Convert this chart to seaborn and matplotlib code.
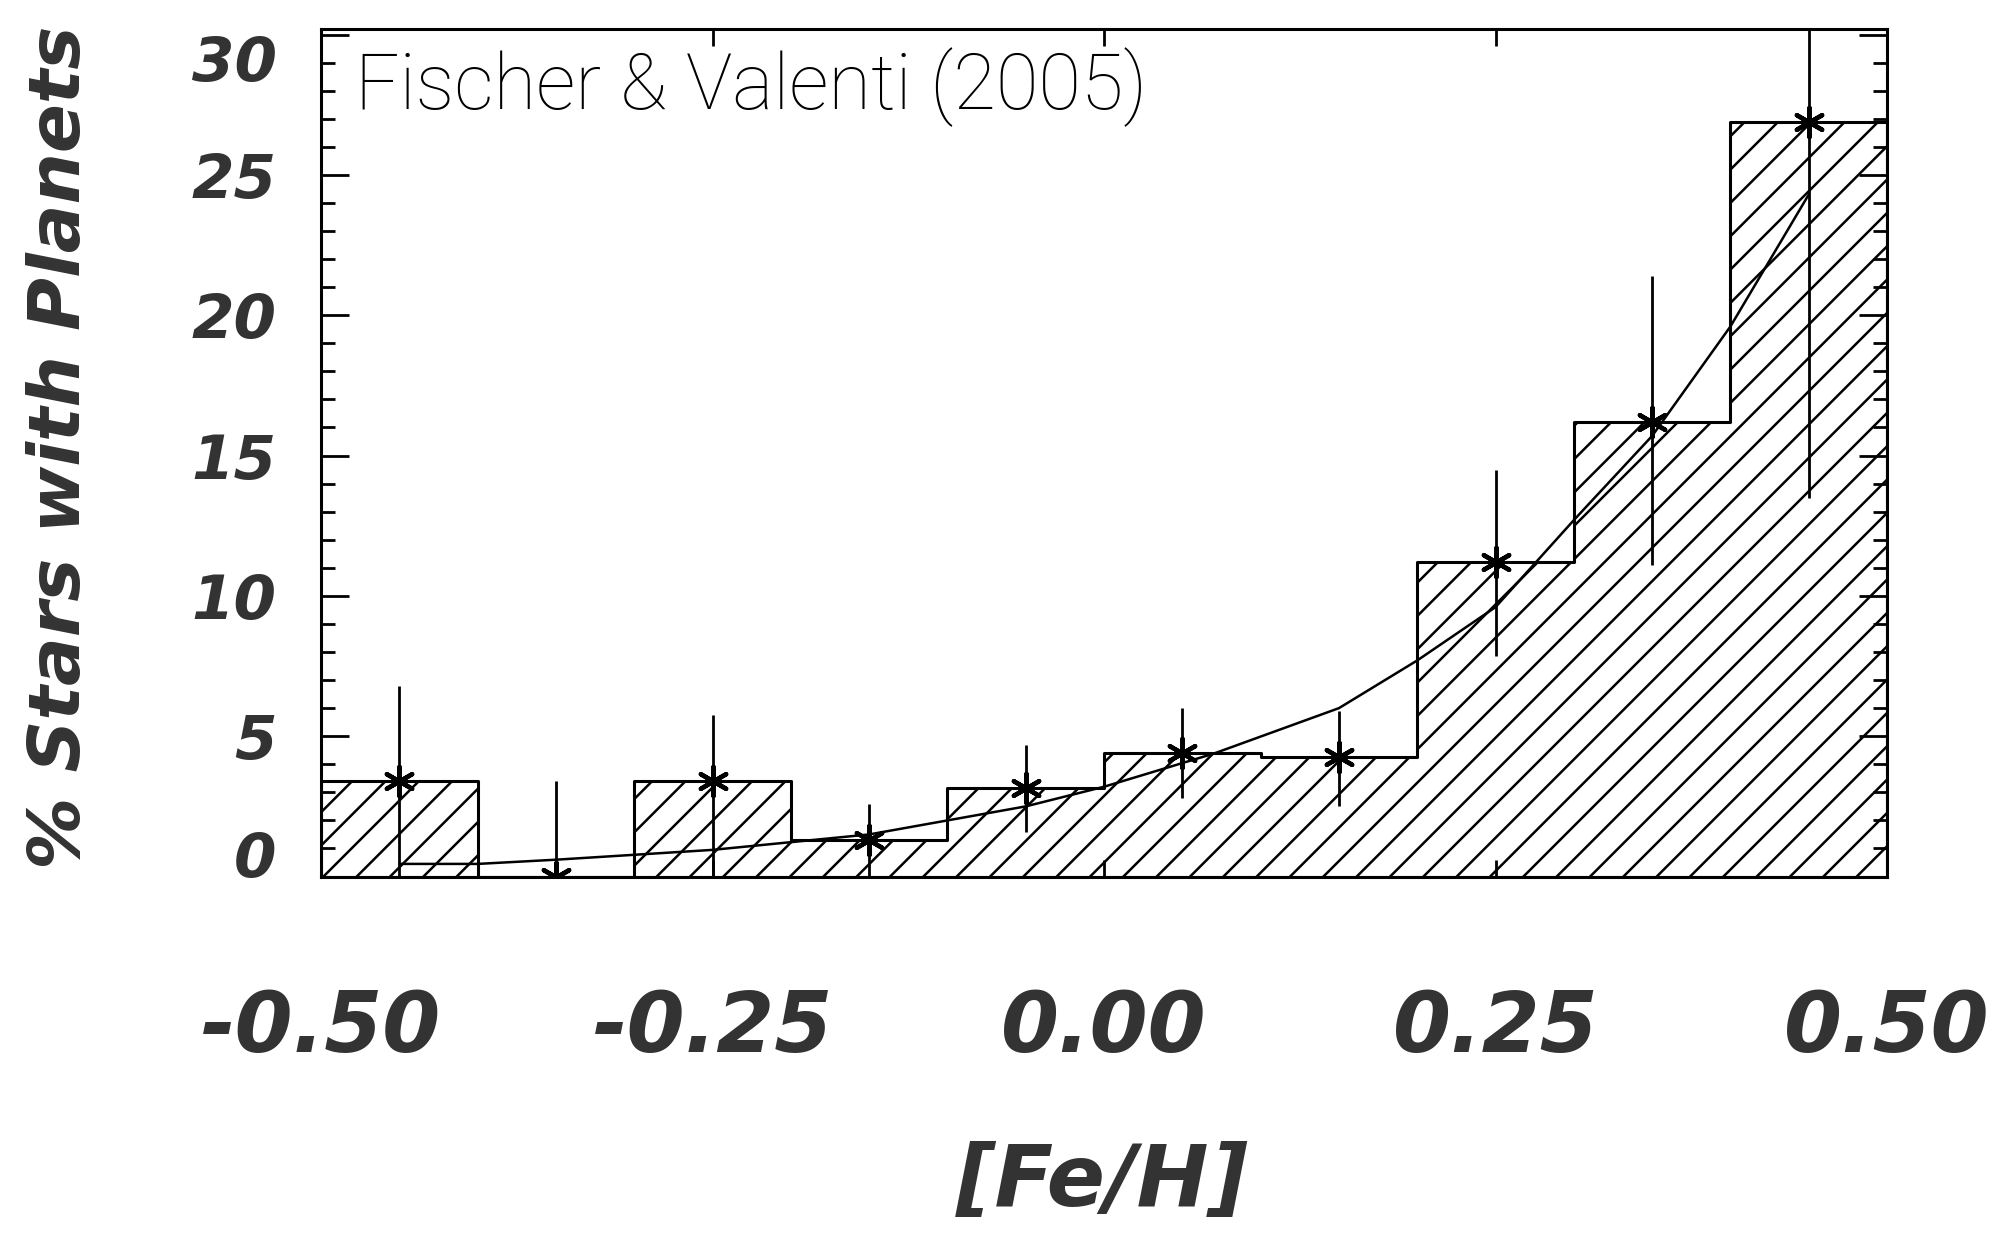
import numpy as np
import matplotlib
matplotlib.use("Agg")
import matplotlib.pyplot as plt
import seaborn as sns
from matplotlib.ticker import MultipleLocator

# bins in [Fe/H] and the percentage of stars with planets in each
bin_edges = [-0.5, -0.4, -0.3, -0.2, -0.1, 0.0, 0.1, 0.2, 0.3, 0.4, 0.5]
bin_centers = [-0.45, -0.35, -0.25, -0.15, -0.05, 0.05, 0.15, 0.25, 0.35, 0.45]
pct = [3.4, 0.0, 3.4, 1.3, 3.15, 4.4, 4.25, 11.2, 16.2, 26.9]
err_lo = [3.4, 0.0, 3.4, 1.3, 1.55, 1.6, 1.75, 3.35, 5.1, 13.4]
err_hi = [3.4, 3.4, 2.35, 1.3, 1.55, 1.6, 1.65, 3.3, 5.2, 13.4]

# fitted curve
fit_x = [-0.45, -0.4, -0.35, -0.25, -0.15, -0.05, 0.0, 0.07, 0.15, 0.2, 0.25, 0.3, 0.35, 0.4, 0.45]
fit_y = [0.45, 0.45, 0.6, 0.95, 1.5, 2.5, 3.2, 4.38, 6.0, 7.7, 9.6, 12.7, 15.7, 19.6, 24.3]

xticks = [-0.5, -0.25, 0.0, 0.25, 0.5]
xtick_labels = ["-0.50", "-0.25", "0.00", "0.25", "0.50"]
yticks = [0, 5, 10, 15, 20, 25, 30]

sns.set_theme(style="ticks")
plt.rcParams["font.family"] = ["DejaVu Sans"]
plt.rcParams["hatch.linewidth"] = 0.9
plt.rcParams["hatch.color"] = "black"

fig = plt.figure(figsize=(10.015, 6.165), dpi=200)
ax = fig.add_axes([0.1603, 0.2891, 0.7818, 0.6874])

sns.histplot(x=bin_centers, weights=pct, bins=bin_edges, element="step",
             fill=True, ax=ax)
for coll in ax.collections:
    coll.set_facecolor("none")
    coll.set_edgecolor("black")
    coll.set_hatch("//")
    coll.set_linewidth(1.1)

sns.lineplot(x=fit_x, y=fit_y, color="black", lw=0.9, ax=ax, sort=False)

ax.errorbar(bin_centers, pct, yerr=[err_lo, err_hi], fmt="none",
            ecolor="black", elinewidth=1.0, capsize=0)
sns.scatterplot(x=bin_centers, y=pct, marker=(6, 2, 0), s=110, color="black",
                linewidth=1.6, ax=ax, zorder=5)

ax.set_xlim(-0.5, 0.5)
ax.set_ylim(0, 30.2)
ax.set_xticks(xticks)
ax.set_xticklabels(xtick_labels)
ax.set_yticks(yticks)
ax.yaxis.set_minor_locator(MultipleLocator(1))

for sp in ax.spines.values():
    sp.set_visible(True)
    sp.set_linewidth(1.1)
    sp.set_color("black")

ax.tick_params(axis="x", which="major", direction="in", top=True, bottom=True,
               length=6, width=1.0, color="black", pad=40)
ax.tick_params(axis="y", which="major", direction="in", left=True, right=True,
               length=10, width=1.0, color="black", pad=16)
ax.tick_params(axis="y", which="minor", direction="in", left=True, right=True,
               length=5, width=1.0, color="black")

lab_color = "#333333"
for t in ax.get_xticklabels():
    t.set_fontsize(30)
    t.set_fontweight("bold")
    t.set_fontstyle("italic")
    t.set_color(lab_color)
ylabs = ax.get_yticklabels()
for t in ylabs:
    t.set_fontsize(22)
    t.set_fontweight("bold")
    t.set_fontstyle("italic")
    t.set_color(lab_color)
    t.set_verticalalignment("center_baseline")
ylabs[0].set_verticalalignment("baseline")
ylabs[-1].set_verticalalignment("top")

ax.set_ylabel("% Stars with Planets", fontsize=26, fontweight="bold",
              fontstyle="italic", color=lab_color)
ax.yaxis.set_label_coords(-0.1667, 0.507)
ax.yaxis.label.set_verticalalignment("center")
ax.set_xlabel("[Fe/H]", fontsize=31, fontweight="bold", fontstyle="italic",
              color=lab_color)
ax.xaxis.set_label_coords(0.4987, -0.3605)
ax.xaxis.label.set_verticalalignment("center")

ax.text(0.0217, 0.9316, "Fischer & Valenti (2005)", transform=ax.transAxes,
        ha="left", va="center", fontsize=28, family=["Roboto", "DejaVu Sans"],
        fontweight="light", color="black")

fig.savefig("out.png", dpi=200, facecolor="white")
